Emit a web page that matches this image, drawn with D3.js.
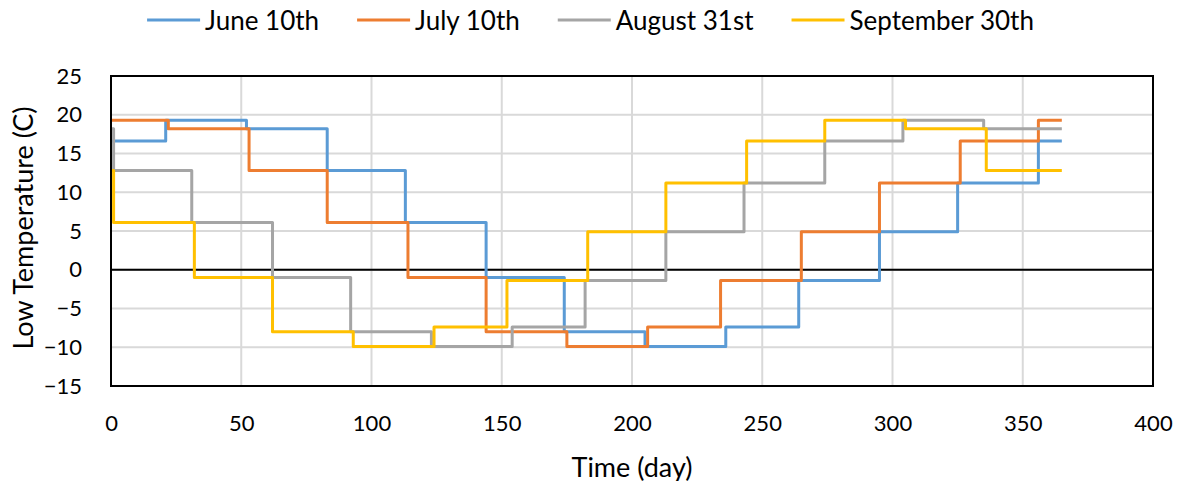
<!DOCTYPE html>
<html>
<head>
<meta charset="utf-8">
<script src="https://cdn.jsdelivr.net/npm/d3@7"></script>
<style>
  html, body { margin: 0; padding: 0; background: #fff; }
  svg text { font-family: Lato, "Open Sans", sans-serif; fill: #000; }
</style>
</head>
<body>
<svg id="chart" width="1181" height="481"></svg>
<script>
// Step series: day on which each monthly low temperature starts, and the value
const seriesNames = ["June 10th", "July 10th", "August 31st", "September 30th"];
const seriesColors = ["#5B9BD5", "#ED7D31", "#A5A5A5", "#FFC000"];

const juneDays  = [0, 21, 52, 83, 113, 144, 174, 205, 236, 264, 295, 325, 356, 365];
const juneTemps = [16.6, 19.3, 18.2, 12.8, 6.1, -1.0, -8.0, -9.9, -7.4, -1.4, 4.9, 11.2, 16.6, 16.6];

const julyDays  = [0, 22, 53, 83, 114, 144, 175, 206, 234, 265, 295, 326, 356, 365];
const julyTemps = [19.3, 18.2, 12.8, 6.1, -1.0, -8.0, -9.9, -7.4, -1.4, 4.9, 11.2, 16.6, 19.3, 19.3];

const augDays  = [0, 1, 31, 62, 92, 123, 154, 182, 213, 243, 274, 304, 335, 365];
const augTemps = [18.2, 12.8, 6.1, -1.0, -8.0, -9.9, -7.4, -1.4, 4.9, 11.2, 16.6, 19.3, 18.2, 18.2];

const sepDays  = [0, 1, 32, 62, 93, 124, 152, 183, 213, 244, 274, 305, 336, 365];
const sepTemps = [12.8, 6.1, -1.0, -8.0, -9.9, -7.4, -1.4, 4.9, 11.2, 16.6, 19.3, 18.2, 12.8, 12.8];

const xTicks = [0, 50, 100, 150, 200, 250, 300, 350, 400];
const yTicks = [-15, -10, -5, 0, 5, 10, 15, 20, 25];

const seriesDays = [juneDays, julyDays, augDays, sepDays];
const seriesTemps = [juneTemps, julyTemps, augTemps, sepTemps];

const svg = d3.select("#chart");
const plot = { left: 111, right: 1153, top: 76, bottom: 386 };

const x = d3.scaleLinear().domain([0, 400]).range([plot.left, plot.right]);
const y = d3.scaleLinear().domain([-15, 25]).range([plot.bottom, plot.top]);

// Gridlines
const grid = svg.append("g").attr("stroke", "#D9D9D9").attr("stroke-width", 2);
grid.selectAll("line.v").data(xTicks).join("line")
  .attr("x1", d => x(d)).attr("x2", d => x(d))
  .attr("y1", plot.top).attr("y2", plot.bottom);
grid.selectAll("line.h").data(yTicks).join("line")
  .attr("x1", plot.left).attr("x2", plot.right)
  .attr("y1", d => y(d)).attr("y2", d => y(d));

// Zero line
svg.append("line")
  .attr("x1", plot.left).attr("x2", plot.right)
  .attr("y1", y(0)).attr("y2", y(0))
  .attr("stroke", "#000").attr("stroke-width", 2);

// Axes (labels only; the frame is drawn separately)
const xAxis = svg.append("g").attr("transform", `translate(0,${plot.bottom})`)
  .call(d3.axisBottom(x).tickValues(xTicks).tickSize(0).tickPadding(29));
const yAxis = svg.append("g").attr("transform", `translate(${plot.left},0)`)
  .call(d3.axisLeft(y).tickValues(yTicks).tickSize(0).tickPadding(29));
[xAxis, yAxis].forEach(a => {
  a.select(".domain").remove();
  a.selectAll("text").attr("font-family", "Lato, sans-serif").attr("font-size", 22).attr("fill", "#000");
});

// Series
const line = d3.line().x(d => x(d[0])).y(d => y(d[1])).curve(d3.curveStepAfter);
seriesDays.forEach((days, i) => {
  const pts = days.map((dd, k) => [dd, seriesTemps[i][k]]);
  svg.append("path")
    .datum(pts)
    .attr("d", line)
    .attr("fill", "none")
    .attr("stroke", seriesColors[i])
    .attr("stroke-width", 3)
    .attr("stroke-linejoin", "round");
});

// Plot frame
svg.append("rect")
  .attr("x", plot.left).attr("y", plot.top)
  .attr("width", plot.right - plot.left).attr("height", plot.bottom - plot.top)
  .attr("fill", "none").attr("stroke", "#000").attr("stroke-width", 2);

// Axis titles
svg.append("text")
  .attr("x", (plot.left + plot.right) / 2).attr("y", 466)
  .attr("text-anchor", "middle").attr("dominant-baseline", "central")
  .attr("font-size", 27).text("Time (day)");
svg.append("text")
  .attr("transform", `translate(22,${(plot.top + plot.bottom) / 2 - 3}) rotate(-90)`)
  .attr("text-anchor", "middle").attr("dominant-baseline", "central")
  .attr("font-size", 27).text("Low Temperature (C)");

// Legend
const legend = svg.append("g");
const items = seriesNames.map((name, i) => {
  const g = legend.append("g");
  g.append("line").attr("x1", 0).attr("x2", 53).attr("y1", 0).attr("y2", 0)
    .attr("stroke", seriesColors[i]).attr("stroke-width", 3);
  const t = g.append("text").attr("x", 58).attr("y", 0)
    .attr("dominant-baseline", "central").attr("font-size", 26).text(name);
  return { g, w: 58 + t.node().getComputedTextLength() };
});
const gap = 38;
const total = d3.sum(items, d => d.w) + gap * (items.length - 1);
let cx = 590.5 - total / 2;
items.forEach(it => {
  it.g.attr("transform", `translate(${cx},20)`);
  cx += it.w + gap;
});
</script>
</body>
</html>
